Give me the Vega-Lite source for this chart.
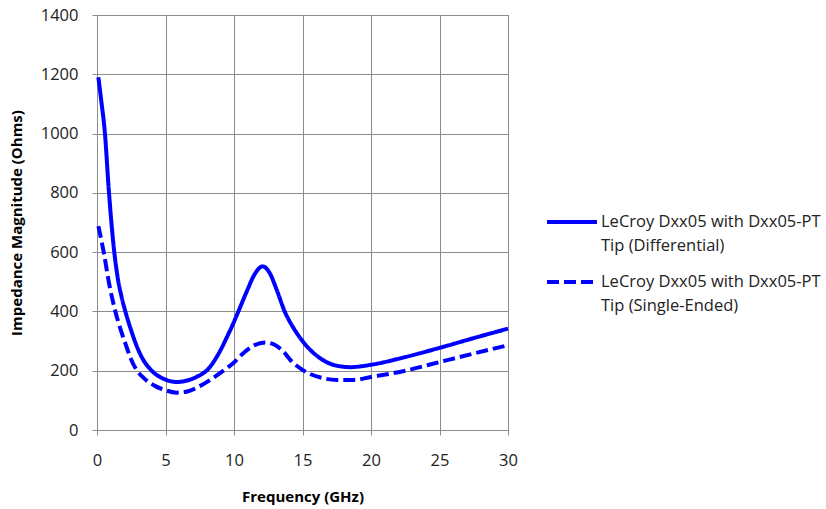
{
  "$schema": "https://vega.github.io/schema/vega-lite/v6.json",
  "autosize": "none",
  "width": 411,
  "height": 415,
  "padding": {"left": 97, "top": 15, "right": 318, "bottom": 79},
  "background": "white",
  "config": {
    "font": "Open Sans",
    "view": {"stroke": "#8c8c8c", "strokeWidth": 1},
    "axis": {
      "gridColor": "#8c8c8c", "gridWidth": 1, "gridOpacity": 1,
      "domainColor": "#8c8c8c", "tickColor": "#8c8c8c", "tickSize": 5,
      "labelFont": "Open Sans", "labelFontSize": 16.5, "labelColor": "#222",
      "titleFont": "Open Sans", "titleFontSize": 15, "titleFontWeight": "bold", "titleColor": "#000"
    }
  },
  "data": {
    "values": [
      {"f": 0.1, "z": 1190, "s": "LeCroy Dxx05 with Dxx05-PT Tip (Differential)"},
      {"f": 0.3, "z": 1115, "s": "LeCroy Dxx05 with Dxx05-PT Tip (Differential)"},
      {"f": 0.58, "z": 1000, "s": "LeCroy Dxx05 with Dxx05-PT Tip (Differential)"},
      {"f": 0.86, "z": 810, "s": "LeCroy Dxx05 with Dxx05-PT Tip (Differential)"},
      {"f": 1.25, "z": 605, "s": "LeCroy Dxx05 with Dxx05-PT Tip (Differential)"},
      {"f": 1.5, "z": 517, "s": "LeCroy Dxx05 with Dxx05-PT Tip (Differential)"},
      {"f": 1.8, "z": 448, "s": "LeCroy Dxx05 with Dxx05-PT Tip (Differential)"},
      {"f": 2.07, "z": 400, "s": "LeCroy Dxx05 with Dxx05-PT Tip (Differential)"},
      {"f": 2.5, "z": 335, "s": "LeCroy Dxx05 with Dxx05-PT Tip (Differential)"},
      {"f": 2.8, "z": 295, "s": "LeCroy Dxx05 with Dxx05-PT Tip (Differential)"},
      {"f": 3.3, "z": 243, "s": "LeCroy Dxx05 with Dxx05-PT Tip (Differential)"},
      {"f": 4.0, "z": 200, "s": "LeCroy Dxx05 with Dxx05-PT Tip (Differential)"},
      {"f": 5.0, "z": 170, "s": "LeCroy Dxx05 with Dxx05-PT Tip (Differential)"},
      {"f": 5.8, "z": 162, "s": "LeCroy Dxx05 with Dxx05-PT Tip (Differential)"},
      {"f": 6.5, "z": 166, "s": "LeCroy Dxx05 with Dxx05-PT Tip (Differential)"},
      {"f": 7.3, "z": 180, "s": "LeCroy Dxx05 with Dxx05-PT Tip (Differential)"},
      {"f": 8.1, "z": 205, "s": "LeCroy Dxx05 with Dxx05-PT Tip (Differential)"},
      {"f": 9.0, "z": 268, "s": "LeCroy Dxx05 with Dxx05-PT Tip (Differential)"},
      {"f": 9.5, "z": 315, "s": "LeCroy Dxx05 with Dxx05-PT Tip (Differential)"},
      {"f": 10.0, "z": 365, "s": "LeCroy Dxx05 with Dxx05-PT Tip (Differential)"},
      {"f": 10.5, "z": 420, "s": "LeCroy Dxx05 with Dxx05-PT Tip (Differential)"},
      {"f": 11.0, "z": 475, "s": "LeCroy Dxx05 with Dxx05-PT Tip (Differential)"},
      {"f": 11.5, "z": 525, "s": "LeCroy Dxx05 with Dxx05-PT Tip (Differential)"},
      {"f": 12.1, "z": 552, "s": "LeCroy Dxx05 with Dxx05-PT Tip (Differential)"},
      {"f": 12.6, "z": 530, "s": "LeCroy Dxx05 with Dxx05-PT Tip (Differential)"},
      {"f": 13.1, "z": 475, "s": "LeCroy Dxx05 with Dxx05-PT Tip (Differential)"},
      {"f": 13.7, "z": 400, "s": "LeCroy Dxx05 with Dxx05-PT Tip (Differential)"},
      {"f": 14.4, "z": 340, "s": "LeCroy Dxx05 with Dxx05-PT Tip (Differential)"},
      {"f": 15.0, "z": 300, "s": "LeCroy Dxx05 with Dxx05-PT Tip (Differential)"},
      {"f": 16.2, "z": 245, "s": "LeCroy Dxx05 with Dxx05-PT Tip (Differential)"},
      {"f": 17.4, "z": 218, "s": "LeCroy Dxx05 with Dxx05-PT Tip (Differential)"},
      {"f": 18.5, "z": 212, "s": "LeCroy Dxx05 with Dxx05-PT Tip (Differential)"},
      {"f": 19.3, "z": 215, "s": "LeCroy Dxx05 with Dxx05-PT Tip (Differential)"},
      {"f": 20.0, "z": 220, "s": "LeCroy Dxx05 with Dxx05-PT Tip (Differential)"},
      {"f": 22.5, "z": 246, "s": "LeCroy Dxx05 with Dxx05-PT Tip (Differential)"},
      {"f": 25.0, "z": 277, "s": "LeCroy Dxx05 with Dxx05-PT Tip (Differential)"},
      {"f": 27.5, "z": 310, "s": "LeCroy Dxx05 with Dxx05-PT Tip (Differential)"},
      {"f": 30.0, "z": 342, "s": "LeCroy Dxx05 with Dxx05-PT Tip (Differential)"},
      {"f": 0.1, "z": 688, "s": "LeCroy Dxx05 with Dxx05-PT Tip (Single-Ended)"},
      {"f": 0.49, "z": 600, "s": "LeCroy Dxx05 with Dxx05-PT Tip (Single-Ended)"},
      {"f": 0.9, "z": 490, "s": "LeCroy Dxx05 with Dxx05-PT Tip (Single-Ended)"},
      {"f": 1.34, "z": 400, "s": "LeCroy Dxx05 with Dxx05-PT Tip (Single-Ended)"},
      {"f": 1.75, "z": 335, "s": "LeCroy Dxx05 with Dxx05-PT Tip (Single-Ended)"},
      {"f": 2.1, "z": 288, "s": "LeCroy Dxx05 with Dxx05-PT Tip (Single-Ended)"},
      {"f": 2.5, "z": 237, "s": "LeCroy Dxx05 with Dxx05-PT Tip (Single-Ended)"},
      {"f": 2.9, "z": 202, "s": "LeCroy Dxx05 with Dxx05-PT Tip (Single-Ended)"},
      {"f": 3.4, "z": 176, "s": "LeCroy Dxx05 with Dxx05-PT Tip (Single-Ended)"},
      {"f": 4.26, "z": 148, "s": "LeCroy Dxx05 with Dxx05-PT Tip (Single-Ended)"},
      {"f": 5.0, "z": 134, "s": "LeCroy Dxx05 with Dxx05-PT Tip (Single-Ended)"},
      {"f": 5.8, "z": 126, "s": "LeCroy Dxx05 with Dxx05-PT Tip (Single-Ended)"},
      {"f": 6.6, "z": 130, "s": "LeCroy Dxx05 with Dxx05-PT Tip (Single-Ended)"},
      {"f": 7.5, "z": 148, "s": "LeCroy Dxx05 with Dxx05-PT Tip (Single-Ended)"},
      {"f": 8.3, "z": 170, "s": "LeCroy Dxx05 with Dxx05-PT Tip (Single-Ended)"},
      {"f": 9.1, "z": 196, "s": "LeCroy Dxx05 with Dxx05-PT Tip (Single-Ended)"},
      {"f": 10.0, "z": 228, "s": "LeCroy Dxx05 with Dxx05-PT Tip (Single-Ended)"},
      {"f": 10.7, "z": 260, "s": "LeCroy Dxx05 with Dxx05-PT Tip (Single-Ended)"},
      {"f": 11.4, "z": 284, "s": "LeCroy Dxx05 with Dxx05-PT Tip (Single-Ended)"},
      {"f": 12.3, "z": 295, "s": "LeCroy Dxx05 with Dxx05-PT Tip (Single-Ended)"},
      {"f": 13.0, "z": 287, "s": "LeCroy Dxx05 with Dxx05-PT Tip (Single-Ended)"},
      {"f": 13.6, "z": 265, "s": "LeCroy Dxx05 with Dxx05-PT Tip (Single-Ended)"},
      {"f": 14.2, "z": 232, "s": "LeCroy Dxx05 with Dxx05-PT Tip (Single-Ended)"},
      {"f": 15.0, "z": 203, "s": "LeCroy Dxx05 with Dxx05-PT Tip (Single-Ended)"},
      {"f": 16.4, "z": 176, "s": "LeCroy Dxx05 with Dxx05-PT Tip (Single-Ended)"},
      {"f": 17.5, "z": 169, "s": "LeCroy Dxx05 with Dxx05-PT Tip (Single-Ended)"},
      {"f": 18.7, "z": 169, "s": "LeCroy Dxx05 with Dxx05-PT Tip (Single-Ended)"},
      {"f": 20.0, "z": 179, "s": "LeCroy Dxx05 with Dxx05-PT Tip (Single-Ended)"},
      {"f": 22.5, "z": 200, "s": "LeCroy Dxx05 with Dxx05-PT Tip (Single-Ended)"},
      {"f": 25.0, "z": 229, "s": "LeCroy Dxx05 with Dxx05-PT Tip (Single-Ended)"},
      {"f": 27.5, "z": 258, "s": "LeCroy Dxx05 with Dxx05-PT Tip (Single-Ended)"},
      {"f": 30.0, "z": 286, "s": "LeCroy Dxx05 with Dxx05-PT Tip (Single-Ended)"}
    ]
  },
  "mark": {"type": "line", "interpolate": "monotone", "strokeWidth": 4, "color": "#0000ff", "strokeCap": "butt"},
  "encoding": {
    "x": {
      "field": "f", "type": "quantitative",
      "scale": {"domain": [0, 30], "nice": false},
      "axis": {"title": "Frequency (GHz)", "values": [0, 5, 10, 15, 20, 25, 30], "format": "d", "labelPadding": 17, "titlePadding": 21, "labelFlush": false}
    },
    "y": {
      "field": "z", "type": "quantitative",
      "scale": {"domain": [0, 1400], "nice": false},
      "axis": {"title": "Impedance Magnitude  (Ohms)", "values": [0, 200, 400, 600, 800, 1000, 1200, 1400], "format": "d", "labelPadding": 14, "titlePadding": 16, "labelFlush": false}
    },
    "strokeDash": {
      "field": "s", "type": "nominal",
      "scale": {"range": [[1, 0], [12, 5]]},
      "legend": {
        "title": null,
        "orient": "none", "legendX": 448, "legendY": 180,
        "symbolType": "stroke", "symbolSize": 2500, "symbolStrokeWidth": 4, "symbolStrokeColor": "#0000ff",
        "labelFont": "Open Sans", "labelFontSize": 16.5, "labelColor": "#222",
        "labelExpr": "[slice(datum.label, 0, 26), slice(datum.label, 27)]",
        "labelLimit": 400, "rowPadding": -1, "labelOffset": 2,
        "encode": {"labels": {"update": {"lineHeight": {"value": 24}}}}
      }
    }
  }
}
